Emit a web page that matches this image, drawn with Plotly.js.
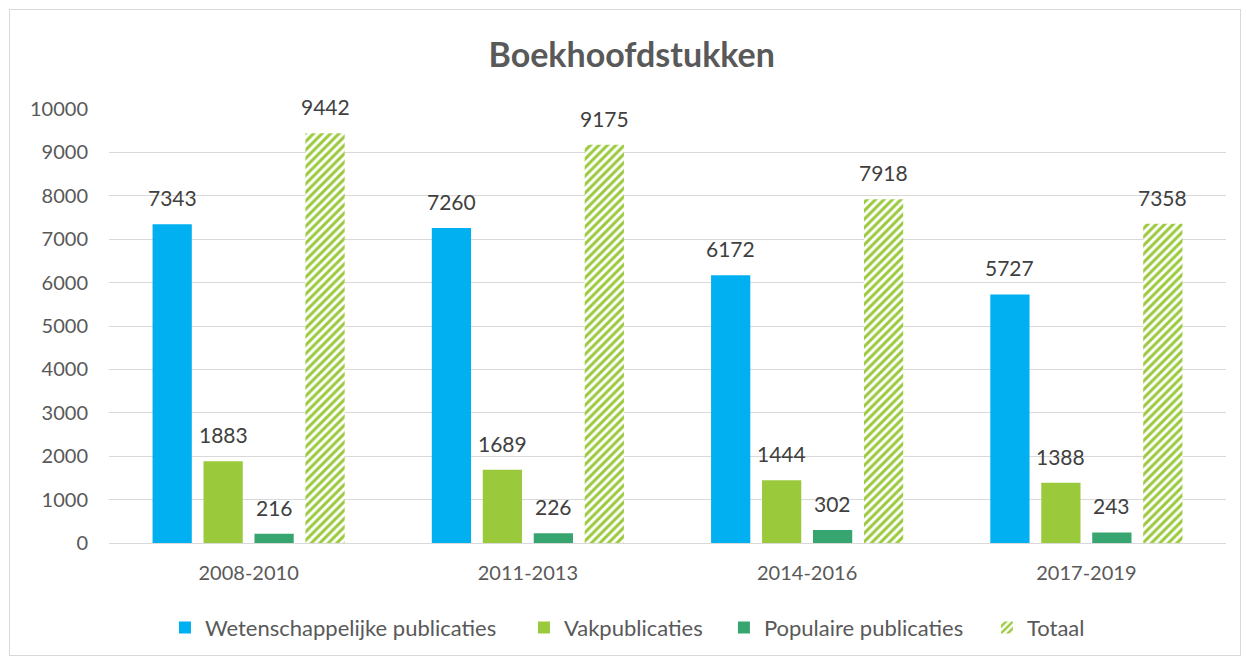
<!DOCTYPE html>
<html>
<head>
<meta charset="utf-8">
<script src="https://cdn.plot.ly/plotly-3.0.1.min.js"></script>
<style>
  html, body { margin: 0; padding: 0; background: #fff; }
  #wrap { position: relative; width: 1246px; height: 659px; }
  #chart { position: absolute; left: 0; top: 0; width: 1246px; height: 659px; }
  #frame { position: absolute; left: 9px; top: 9px; width: 1230px; height: 645px; border: 1px solid #D9D9D9; pointer-events: none; }
</style>
</head>
<body>
<div id="wrap">
  <div id="chart"></div>
  <div id="frame"></div>
</div>
<script>
const categories = ['2008-2010', '2011-2013', '2014-2016', '2017-2019'];
const seriesNames = ['Wetenschappelijke publicaties', 'Vakpublicaties', 'Populaire publicaties', 'Totaal'];
const wetenschappelijk = [7343, 7260, 6172, 5727];
const vak = [1883, 1689, 1444, 1388];
const populair = [216, 226, 302, 243];
const totaal = [9442, 9175, 7918, 7358];
const yTicks = [0, 1000, 2000, 3000, 4000, 5000, 6000, 7000, 8000, 9000, 10000];

const FONT = 'Lato, "Open Sans", sans-serif';
const colors = ['#00B0F0', '#9ACA3C', '#36A56F', '#9ACA3C'];
const allSeries = [wetenschappelijk, vak, populair, totaal];
const legendIds = ['legend', 'legend2', 'legend3', 'legend4'];
const legendX = [0.0501, 0.3715, 0.5505, 0.7860];

const traces = allSeries.map((vals, i) => {
  const t = {
    type: 'bar',
    name: seriesNames[i],
    x: categories,
    y: vals,
    legend: legendIds[i],
    marker: { color: colors[i], line: { width: 0 } },
    hoverinfo: 'x+y+name'
  };
  if (i === 3) {
    t.marker = {
      color: '#ffffff',
      line: { width: 0 },
      pattern: { shape: '/', fgcolor: '#9ACA3C', bgcolor: '#ffffff', size: 6, solidity: 0.5 }
    };
  }
  return t;
});

const slot = 279.25 * (1 - 0.27) / 4;
const annotations = [];
allSeries.forEach((vals, i) => {
  vals.forEach((v, j) => {
    annotations.push({
      x: categories[j], y: v, xref: 'x', yref: 'y',
      text: String(v), showarrow: false,
      xanchor: 'center', yanchor: 'bottom',
      xshift: (i - 1.5) * slot, yshift: 12,
      font: { family: FONT, size: 21, color: '#404040' }
    });
  });
});

const layout = {
  width: 1246, height: 659,
  margin: { l: 109, r: 20, t: 109, b: 116, autoexpand: false },
  paper_bgcolor: '#ffffff', plot_bgcolor: '#ffffff',
  title: {
    text: '<b>Boekhoofdstukken</b>',
    font: { family: FONT, size: 34, color: '#595959' },
    x: 0.507, xanchor: 'center', y: 0.917, yanchor: 'middle'
  },
  barmode: 'group',
  bargap: 0.27,
  bargroupgap: 0.23,
  xaxis: {
    type: 'category',
    tickfont: { family: FONT, size: 20, color: '#595959' },
    showgrid: false, showline: true, linecolor: '#D9D9D9', linewidth: 1,
    ticks: '', ticklen: 0, ticklabelstandoff: 12, automargin: false
  },
  yaxis: {
    range: [0, 10000],
    tickvals: yTicks,
    ticktext: yTicks.map(String),
    tickfont: { family: FONT, size: 20, color: '#595959' },
    showgrid: true, gridcolor: '#D9D9D9', gridwidth: 1,
    zeroline: true, zerolinecolor: '#D9D9D9', zerolinewidth: 1,
    showline: false, ticks: '', ticklabelstandoff: 20, automargin: false
  },
  annotations: annotations,
  showlegend: true
};

legendIds.forEach((id, i) => {
  layout[id] = {
    orientation: 'h', x: legendX[i], xanchor: 'left', y: -0.195, yanchor: 'middle',
    font: { family: FONT, size: 22, color: '#595959' },
    itemwidth: 30, bgcolor: 'rgba(0,0,0,0)'
  };
});

Plotly.newPlot('chart', traces, layout, { displayModeBar: false, staticPlot: true });
</script>
</body>
</html>
